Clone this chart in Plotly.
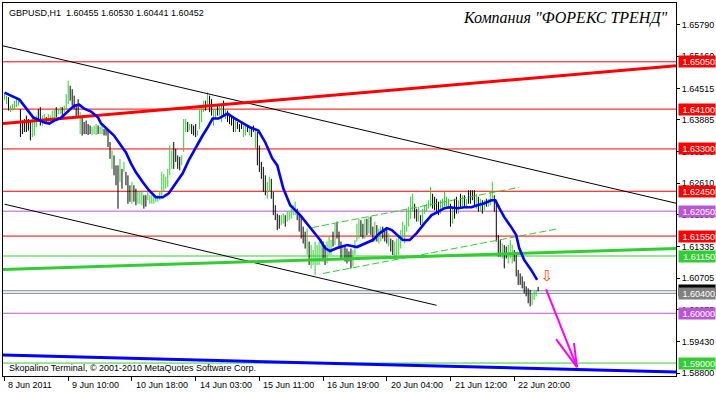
import plotly.graph_objects as go

# ---------------- data ----------------
symbol_title = "GBPUSD,H1  1.60455 1.60530 1.60441 1.60452"
brand_title = "Компания \"ФОРЕКС ТРЕНД\""
copyright_text = "Skopalino Terminal, © 2001-2010 MetaQuotes Software Corp."

x_tick_index = [0, 32, 64, 96, 128, 160, 192, 224, 256]
x_tick_text = ["8 Jun 2011", "9 Jun 10:00", "10 Jun 18:00", "14 Jun 03:00", "15 Jun 11:00",
               "16 Jun 19:00", "20 Jun 04:00", "21 Jun 12:00", "22 Jun 20:00"]

y_tick_vals = [1.65790, 1.65160, 1.64515, 1.63885, 1.63240, 1.62610, 1.61980,
               1.61335, 1.60705, 1.60075, 1.59430, 1.58800]

highs = [
    1.6440, 1.6437, 1.6434, 1.6417, 1.6420, 1.6427, 1.6434, 1.6432, 1.6410, 1.6387,
    1.6390, 1.6397, 1.6390, 1.6387, 1.6397, 1.6394, 1.6397, 1.6410, 1.6414, 1.6397,
    1.6400, 1.6394, 1.6400, 1.6397, 1.6407, 1.6410, 1.6414, 1.6410, 1.6414, 1.6414,
    1.6417, 1.6440, 1.6467, 1.6457, 1.6450, 1.6437, 1.6420, 1.6430, 1.6404, 1.6397,
    1.6384, 1.6387, 1.6380, 1.6377, 1.6374, 1.6377, 1.6380, 1.6377, 1.6374, 1.6377,
    1.6370, 1.6370, 1.6370, 1.6344, 1.6327, 1.6317, 1.6297, 1.6297, 1.6310, 1.6290,
    1.6304, 1.6284, 1.6277, 1.6257, 1.6264, 1.6257, 1.6250, 1.6244, 1.6244, 1.6244,
    1.6237, 1.6237, 1.6247, 1.6237, 1.6237, 1.6234, 1.6234, 1.6237, 1.6244, 1.6284,
    1.6280, 1.6274, 1.6290, 1.6337, 1.6327, 1.6344, 1.6330, 1.6317, 1.6314, 1.6317,
    1.6390, 1.6390, 1.6384, 1.6380, 1.6380, 1.6377, 1.6380, 1.6367, 1.6410, 1.6417,
    1.6427, 1.6427, 1.6444, 1.6437, 1.6430, 1.6410, 1.6410, 1.6420, 1.6420, 1.6420,
    1.6427, 1.6410, 1.6407, 1.6400, 1.6397, 1.6390, 1.6390, 1.6384, 1.6380, 1.6384,
    1.6377, 1.6377, 1.6377, 1.6377, 1.6374, 1.6377, 1.6370, 1.6364, 1.6337, 1.6304,
    1.6294, 1.6277, 1.6264, 1.6274, 1.6270, 1.6244, 1.6217, 1.6200, 1.6197, 1.6197,
    1.6200, 1.6197, 1.6204, 1.6204, 1.6210, 1.6217, 1.6224, 1.6210, 1.6197, 1.6194,
    1.6174, 1.6164, 1.6170, 1.6144, 1.6137, 1.6127, 1.6144, 1.6137, 1.6144, 1.6150,
    1.6144, 1.6137, 1.6144, 1.6154, 1.6147, 1.6164, 1.6180, 1.6184, 1.6164, 1.6144,
    1.6137, 1.6137, 1.6130, 1.6124, 1.6130, 1.6127, 1.6147, 1.6180, 1.6190, 1.6187,
    1.6180, 1.6190, 1.6190, 1.6194, 1.6194, 1.6174, 1.6184, 1.6177, 1.6170, 1.6174,
    1.6174, 1.6167, 1.6170, 1.6160, 1.6150, 1.6147, 1.6144, 1.6150, 1.6154, 1.6167,
    1.6184, 1.6177, 1.6210, 1.6214, 1.6234, 1.6240, 1.6220, 1.6210, 1.6214, 1.6197,
    1.6210, 1.6217, 1.6220, 1.6227, 1.6254, 1.6240, 1.6234, 1.6230, 1.6224, 1.6227,
    1.6230, 1.6244, 1.6234, 1.6230, 1.6220, 1.6214, 1.6230, 1.6234, 1.6227, 1.6240,
    1.6237, 1.6237, 1.6230, 1.6247, 1.6247, 1.6247, 1.6247, 1.6240, 1.6234, 1.6230,
    1.6227, 1.6227, 1.6230, 1.6230, 1.6244, 1.6264, 1.6237, 1.6227, 1.6157, 1.6147,
    1.6140, 1.6137, 1.6134, 1.6137, 1.6147, 1.6137, 1.6127, 1.6117, 1.6087, 1.6080,
    1.6074, 1.6064, 1.6054, 1.6050, 1.6047, 1.6040, 1.6044, 1.6047, 1.6053,
]

lows = [
    1.6429, 1.6420, 1.6407, 1.6404, 1.6407, 1.6410, 1.6414, 1.6417, 1.6354, 1.6360,
    1.6364, 1.6364, 1.6367, 1.6347, 1.6354, 1.6357, 1.6374, 1.6384, 1.6377, 1.6377,
    1.6384, 1.6380, 1.6384, 1.6384, 1.6390, 1.6390, 1.6394, 1.6400, 1.6400, 1.6397,
    1.6404, 1.6410, 1.6420, 1.6427, 1.6417, 1.6410, 1.6394, 1.6397, 1.6360, 1.6357,
    1.6360, 1.6360, 1.6358, 1.6360, 1.6358, 1.6360, 1.6358, 1.6360, 1.6360, 1.6360,
    1.6357, 1.6357, 1.6334, 1.6310, 1.6290, 1.6277, 1.6257, 1.6210, 1.6264, 1.6250,
    1.6284, 1.6257, 1.6220, 1.6224, 1.6220, 1.6224, 1.6217, 1.6220, 1.6220, 1.6217,
    1.6210, 1.6214, 1.6227, 1.6220, 1.6220, 1.6220, 1.6224, 1.6224, 1.6227, 1.6230,
    1.6244, 1.6250, 1.6254, 1.6277, 1.6290, 1.6290, 1.6304, 1.6290, 1.6287, 1.6297,
    1.6324, 1.6364, 1.6364, 1.6367, 1.6360, 1.6357, 1.6354, 1.6357, 1.6370, 1.6384,
    1.6404, 1.6407, 1.6417, 1.6404, 1.6397, 1.6377, 1.6390, 1.6397, 1.6397, 1.6384,
    1.6397, 1.6390, 1.6384, 1.6380, 1.6377, 1.6364, 1.6364, 1.6370, 1.6364, 1.6370,
    1.6354, 1.6357, 1.6364, 1.6357, 1.6354, 1.6364, 1.6330, 1.6297, 1.6284, 1.6270,
    1.6244, 1.6237, 1.6230, 1.6244, 1.6230, 1.6197, 1.6187, 1.6167, 1.6170, 1.6177,
    1.6180, 1.6174, 1.6184, 1.6187, 1.6190, 1.6197, 1.6197, 1.6187, 1.6164, 1.6150,
    1.6140, 1.6130, 1.6117, 1.6097, 1.6090, 1.6097, 1.6077, 1.6097, 1.6097, 1.6104,
    1.6104, 1.6097, 1.6100, 1.6117, 1.6117, 1.6134, 1.6137, 1.6150, 1.6130, 1.6110,
    1.6110, 1.6104, 1.6100, 1.6104, 1.6090, 1.6094, 1.6117, 1.6144, 1.6150, 1.6154,
    1.6150, 1.6150, 1.6157, 1.6160, 1.6157, 1.6144, 1.6144, 1.6144, 1.6140, 1.6144,
    1.6150, 1.6144, 1.6140, 1.6134, 1.6124, 1.6117, 1.6107, 1.6110, 1.6117, 1.6130,
    1.6150, 1.6140, 1.6164, 1.6174, 1.6190, 1.6204, 1.6190, 1.6184, 1.6184, 1.6177,
    1.6180, 1.6200, 1.6204, 1.6210, 1.6214, 1.6210, 1.6207, 1.6204, 1.6197, 1.6200,
    1.6207, 1.6214, 1.6214, 1.6210, 1.6174, 1.6180, 1.6190, 1.6200, 1.6200, 1.6210,
    1.6214, 1.6214, 1.6210, 1.6220, 1.6220, 1.6227, 1.6217, 1.6210, 1.6204, 1.6204,
    1.6200, 1.6207, 1.6214, 1.6214, 1.6217, 1.6224, 1.6204, 1.6144, 1.6114, 1.6114,
    1.6110, 1.6090, 1.6110, 1.6100, 1.6110, 1.6100, 1.6104, 1.6074, 1.6057, 1.6057,
    1.6050, 1.6040, 1.6034, 1.6020, 1.6014, 1.6017, 1.6027, 1.6034, 1.6044,
]

bar_up = [
    1, 1, 0, 1, 1, 1, 1, 1, 0, 0,
    0, 0, 0, 0, 1, 1, 1, 0, 0, 1,
    1, 0, 1, 1, 1, 1, 0, 1, 1, 0,
    1, 1, 1, 0, 0, 0, 0, 0, 1, 0,
    0, 0, 0, 0, 1, 1, 1, 0, 1, 1,
    0, 0, 0, 0, 1, 0, 0, 0, 1, 0,
    1, 0, 0, 0, 1, 0, 0, 1, 1, 1,
    0, 0, 1, 1, 1, 1, 1, 1, 1, 1,
    1, 1, 1, 1, 1, 0, 0, 0, 0, 1,
    1, 1, 0, 1, 0, 0, 0, 1, 1, 1,
    1, 0, 1, 0, 0, 1, 1, 0, 1, 1,
    0, 1, 0, 0, 0, 0, 1, 0, 0, 0,
    1, 1, 0, 1, 0, 0, 1, 0, 0, 0,
    0, 0, 1, 1, 0, 0, 0, 0, 0, 1,
    1, 0, 1, 1, 1, 1, 1, 0, 0, 0,
    0, 0, 1, 0, 1, 1, 1, 1, 1, 1,
    0, 0, 1, 1, 1, 0, 1, 0, 0, 0,
    1, 0, 0, 0, 0, 1, 1, 1, 1, 0,
    0, 1, 0, 1, 0, 0, 1, 0, 1, 1,
    0, 0, 0, 1, 0, 0, 1, 1, 1, 1,
    1, 1, 1, 1, 1, 1, 0, 0, 1, 0,
    1, 1, 1, 1, 1, 0, 0, 0, 0, 1,
    1, 1, 1, 1, 0, 1, 0, 0, 1, 0,
    1, 0, 1, 0, 0, 0, 0, 1, 0, 1,
    0, 1, 0, 1, 1, 1, 0, 0, 0, 0,
    1, 0, 0, 1, 1, 1, 0, 0, 0, 0,
    0, 0, 0, 0, 0, 1, 1, 1, 0,
]

ma_index = [0, 3.5, 7.5, 11, 14.5, 17, 20, 22.5, 25, 28.5,
            32, 35, 37.5, 40, 43.5, 47, 48.5, 52, 55, 58.5,
            61, 63.5, 66, 69.5, 72.5, 76, 79.5, 82.5, 86, 89.5,
            92.5, 96, 99.5, 102, 104.5, 107.5, 112, 115, 119.5, 123.5,
            127.5, 131, 134.5, 137, 140, 143.5, 148.5, 153.5, 158.5, 161,
            163.5, 167, 172, 177, 182, 185, 188.5, 192, 194.5, 197,
            200, 203.5, 207, 211, 214.5, 217.5, 221, 223.5, 227.5, 231,
            234.5, 237.5, 241, 244.5, 246.5, 248.5, 251, 254.5, 257, 258.5,
            261, 264.5, 267.5]
ma_values = [1.6443, 1.6437, 1.6429, 1.6411, 1.6393, 1.6389, 1.6383, 1.6381, 1.6387, 1.6393,
             1.6405, 1.6417, 1.6419, 1.6411, 1.6405, 1.6393, 1.6381, 1.6369, 1.6357, 1.6337,
             1.6323, 1.6301, 1.6283, 1.6263, 1.6247, 1.6233, 1.6233, 1.6241, 1.6261, 1.6281,
             1.6307, 1.6333, 1.6357, 1.6373, 1.6391, 1.6391, 1.6401, 1.6393, 1.6383, 1.6373,
             1.6367, 1.6343, 1.6311, 1.6297, 1.6251, 1.6217, 1.6197, 1.6173, 1.6147, 1.6131,
             1.6125, 1.6131, 1.6137, 1.6133, 1.6141, 1.6147, 1.6161, 1.6171, 1.6167, 1.6157,
             1.6147, 1.6147, 1.6161, 1.6181, 1.6197, 1.6203, 1.6211, 1.6213, 1.6211, 1.6213,
             1.6213, 1.6217, 1.6221, 1.6227, 1.6227, 1.6211, 1.6193, 1.6173, 1.6157, 1.6131,
             1.6107, 1.6087, 1.6067]

red_levels = [1.6505, 1.6410, 1.6330, 1.6245, 1.6155]
violet_levels = [1.6205, 1.6000]
green_levels = [1.6115, 1.5900]
gray_levels = [1.6040]
bid_price = 1.60452

# trend lines: (bar index list, price list)
black_upper = ([-0.75, 337.25], [1.6537, 1.6221])
black_lower = ([0, 217], [1.6219, 1.6016])
red_thick = ([-0.75, 337.25], [1.6381, 1.6497])
green_thick = ([-0.75, 337.25], [1.6088, 1.6130])
blue_bottom = ([-0.75, 337.25], [1.5916, 1.5882])
green_dash_upper = ([154.5, 258.5], [1.6172, 1.6253])
green_dash_lower = ([160, 277], [1.6080, 1.6169])
magenta_main = ([272, 287.5], [1.6048, 1.5892])
magenta_left = ([277, 287.5], [1.5948, 1.5892])
magenta_right = ([286, 287.5], [1.5940, 1.5892])
down_marker = ([272.5], [1.6072])

X_RANGE = [-0.75, 337.25]
Y_RANGE = [1.58740, 1.66231]

RED = "#FF0000"
VIOLET = "#BA55D3"
GREEN = "#32CD32"
GRAY = "#778899"
FONT = "Liberation Sans"

fig = go.Figure()


def line(xs, ys, color, width=1, dash=None):
    fig.add_trace(go.Scatter(x=xs, y=ys, mode="lines",
                             line=dict(color=color, width=width, dash=dash),
                             hoverinfo="skip", showlegend=False))


# horizontal levels
for lv in red_levels:
    line(X_RANGE, [lv, lv], RED)
for lv in violet_levels:
    line(X_RANGE, [lv, lv], VIOLET)
for lv in green_levels:
    line(X_RANGE, [lv, lv], GREEN)
for lv in gray_levels:
    line(X_RANGE, [lv, lv], GRAY)
line(X_RANGE, [bid_price, bid_price], GRAY)

# bars
gx, gy, bx, by = [], [], [], []
for i, (h, l, u) in enumerate(zip(highs, lows, bar_up)):
    if u:
        gx += [i, i, None]
        gy += [l, h, None]
    else:
        bx += [i, i, None]
        by += [l, h, None]
line(gx, gy, GREEN, 1)
line(bx, by, "#000000", 1)

# trend lines
line(*black_upper, "#000000", 1)
line(*black_lower, "#000000", 1)
line(*green_dash_upper, GREEN, 1, "7px,3px")
line(*green_dash_lower, GREEN, 1, "7px,3px")
line(*red_thick, RED, 3)
line(*green_thick, GREEN, 3)
line(*blue_bottom, "#0000FF", 3)

# moving average
line(ma_index, ma_values, "#0000FF", 2.6)

# magenta arrow
line(*magenta_main, "#FF00FF", 2)
line(*magenta_left, "#FF00FF", 2)
line(*magenta_right, "#FF00FF", 2)

fig.add_trace(go.Scatter(x=down_marker[0], y=down_marker[1], mode="text", text=["⇩"],
                         textfont=dict(family="DejaVu Sans", size=15, color="#FF4500"),
                         hoverinfo="skip", showlegend=False))

annotations = []
# x tick labels (left aligned to tick like MT4)
for xv, txt in zip(x_tick_index, x_tick_text):
    annotations.append(dict(x=xv, y=0, xref="x", yref="paper", text=txt, showarrow=False,
                            xanchor="left", yanchor="top", xshift=2, yshift=-2,
                            font=dict(family=FONT, size=9, color="#000000")))

# price labels on right axis
label_items = ([(lv, RED) for lv in red_levels] + [(lv, VIOLET) for lv in violet_levels]
               + [(lv, GREEN) for lv in green_levels] + [(bid_price, "#000000")]
               + [(lv, "#808080") for lv in gray_levels])
for lv, col in label_items:
    annotations.append(dict(x=1, y=lv, xref="paper", yref="y", text=f"{lv:.5f}",
                            showarrow=False, xanchor="left", yanchor="middle", xshift=2,
                            width=36, height=11, align="right", bgcolor=col, borderpad=0,
                            font=dict(family=FONT, size=9, color="#FFFFFF")))

annotations.append(dict(x=0, y=1, xref="paper", yref="paper", text=symbol_title,
                        showarrow=False, xanchor="left", yanchor="top", xshift=4, yshift=-3,
                        font=dict(family=FONT, size=9, color="#000000")))
annotations.append(dict(x=1, y=1, xref="paper", yref="paper", text=f"<i>{brand_title}</i>",
                        showarrow=False, xanchor="right", yanchor="middle", xshift=-6, yshift=-15,
                        font=dict(family="Liberation Serif", size=16, color="#000000")))
annotations.append(dict(x=0, y=0, xref="paper", yref="paper", text=copyright_text,
                        showarrow=False, xanchor="left", yanchor="bottom", xshift=4, yshift=1,
                        font=dict(family=FONT, size=9, color="#000000")))

fig.update_layout(
    width=716, height=394,
    margin=dict(l=2, r=38, t=2, b=18),
    paper_bgcolor="#FFFFFF", plot_bgcolor="#FFFFFF",
    showlegend=False, hovermode=False,
    annotations=annotations,
    xaxis=dict(range=X_RANGE, showgrid=False, zeroline=False, showline=True, linecolor="#000000",
               linewidth=1, mirror=True, tickvals=x_tick_index, ticks="outside", ticklen=4,
               tickcolor="#000000", showticklabels=False, fixedrange=True),
    yaxis=dict(range=Y_RANGE, side="right", showgrid=False, zeroline=False, showline=True,
               linecolor="#000000", linewidth=1, mirror=True, tickvals=y_tick_vals,
               ticktext=[f"{v:.5f}" for v in y_tick_vals], ticks="outside", ticklen=3,
               tickcolor="#000000", tickfont=dict(family=FONT, size=9, color="#000000"),
               fixedrange=True),
)

fig.write_html("out.html", config={"displayModeBar": False},
               post_script="document.body.style.margin='0';document.body.style.overflow='hidden';")
